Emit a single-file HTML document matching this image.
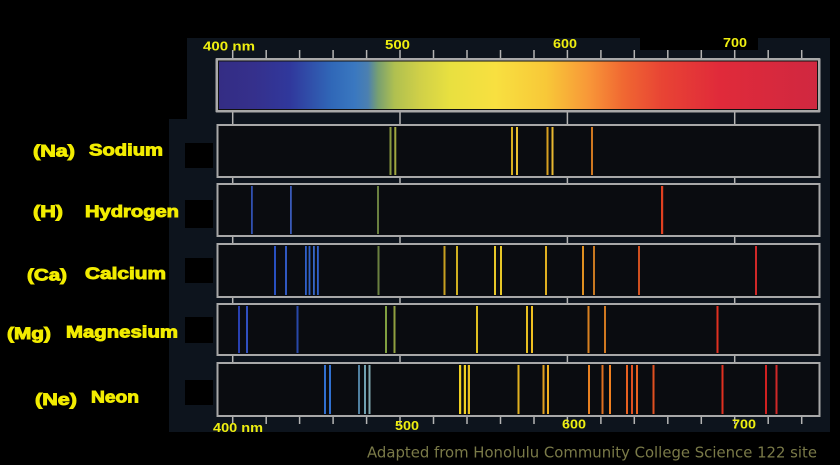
<!DOCTYPE html>
<html><head><meta charset="utf-8"><style>
html,body{margin:0;padding:0;background:#000;}
svg{display:block;}
.lab{font-family:"Liberation Sans",Arial,sans-serif;font-weight:bold;fill:#f2ec00;stroke:#f2ec00;stroke-width:0.9;font-size:16.5px;}
.ax{font-family:"Liberation Sans",Arial,sans-serif;font-weight:bold;fill:#eeee10;font-size:13px;}
.cap{font-family:"DejaVu Sans","Liberation Sans",sans-serif;fill:#7a7a48;font-size:14.8px;}
</style></head><body>
<svg width="840" height="465" viewBox="0 0 840 465" xmlns="http://www.w3.org/2000/svg">
<defs>
<linearGradient id="spec" x1="219" y1="0" x2="817" y2="0" gradientUnits="userSpaceOnUse">
<stop offset="0" stop-color="#342d84"/>
<stop offset="0.059" stop-color="#35308c"/>
<stop offset="0.119" stop-color="#30389c"/>
<stop offset="0.189" stop-color="#3068b8"/>
<stop offset="0.227" stop-color="#3a78c0"/>
<stop offset="0.249" stop-color="#4c80b0"/>
<stop offset="0.266" stop-color="#78a070"/>
<stop offset="0.294" stop-color="#b0c050"/>
<stop offset="0.336" stop-color="#d0d048"/>
<stop offset="0.386" stop-color="#e8e040"/>
<stop offset="0.462" stop-color="#f8e040"/>
<stop offset="0.547" stop-color="#f8c838"/>
<stop offset="0.617" stop-color="#f89838"/>
<stop offset="0.676" stop-color="#f06832"/>
<stop offset="0.741" stop-color="#e84434"/>
<stop offset="0.838" stop-color="#e02a3a"/>
<stop offset="1" stop-color="#d02840"/>
</linearGradient>
</defs>
<rect x="0" y="0" width="840" height="465" fill="#000"/>
<rect x="187" y="38" width="643" height="394" fill="#0d141d"/>
<rect x="169" y="119" width="18" height="313" fill="#0d141d"/>
<rect x="640" y="38" width="118" height="12" fill="#000"/>
<rect x="185" y="143" width="28" height="25" fill="#000"/>
<rect x="185" y="200" width="28" height="28" fill="#000"/>
<rect x="185" y="258" width="28" height="25" fill="#000"/>
<rect x="185" y="317" width="28" height="26" fill="#000"/>
<rect x="185" y="380" width="28" height="25" fill="#000"/>

<text class="ax" x="203" y="50.5" textLength="52" lengthAdjust="spacingAndGlyphs">400 nm</text>
<text class="ax" x="385" y="49" textLength="25" lengthAdjust="spacingAndGlyphs">500</text>
<text class="ax" x="553" y="48" textLength="24" lengthAdjust="spacingAndGlyphs">600</text>
<text class="ax" x="723" y="47" textLength="24" lengthAdjust="spacingAndGlyphs">700</text>
<rect x="640" y="0" width="200" height="38" fill="#000"/>

<g stroke="#b4b4b4" stroke-width="1.5">
<line x1="232.7" y1="50" x2="232.7" y2="58"/><line x1="266.2" y1="50" x2="266.2" y2="58"/><line x1="299.6" y1="50" x2="299.6" y2="58"/><line x1="333.1" y1="50" x2="333.1" y2="58"/><line x1="366.6" y1="50" x2="366.6" y2="58"/><line x1="400" y1="50" x2="400" y2="58"/><line x1="433.5" y1="50" x2="433.5" y2="58"/><line x1="467" y1="50" x2="467" y2="58"/><line x1="500.5" y1="50" x2="500.5" y2="58"/><line x1="534" y1="50" x2="534" y2="58"/><line x1="567.4" y1="50" x2="567.4" y2="58"/><line x1="600.9" y1="50" x2="600.9" y2="58"/><line x1="634.3" y1="50" x2="634.3" y2="58"/><line x1="667.8" y1="50" x2="667.8" y2="58"/><line x1="701.3" y1="50" x2="701.3" y2="58"/><line x1="734.7" y1="50" x2="734.7" y2="58"/><line x1="768.2" y1="50" x2="768.2" y2="58"/><line x1="801.7" y1="50" x2="801.7" y2="58"/>
</g>
<g stroke="#b4b4b4" stroke-width="1.5">
<line x1="232.7" y1="112" x2="232.7" y2="125"/><line x1="400" y1="112" x2="400" y2="125"/><line x1="567.4" y1="112" x2="567.4" y2="125"/><line x1="734.7" y1="112" x2="734.7" y2="125"/>
<line x1="232.7" y1="177" x2="232.7" y2="184"/><line x1="400" y1="177" x2="400" y2="184"/><line x1="567.4" y1="177" x2="567.4" y2="184"/><line x1="734.7" y1="177" x2="734.7" y2="184"/>
<line x1="232.7" y1="236" x2="232.7" y2="244"/><line x1="400" y1="236" x2="400" y2="244"/><line x1="567.4" y1="236" x2="567.4" y2="244"/><line x1="734.7" y1="236" x2="734.7" y2="244"/>
<line x1="232.7" y1="297" x2="232.7" y2="304"/><line x1="400" y1="297" x2="400" y2="304"/><line x1="567.4" y1="297" x2="567.4" y2="304"/><line x1="734.7" y1="297" x2="734.7" y2="304"/>
<line x1="232.7" y1="355" x2="232.7" y2="363"/><line x1="400" y1="355" x2="400" y2="363"/><line x1="567.4" y1="355" x2="567.4" y2="363"/><line x1="734.7" y1="355" x2="734.7" y2="363"/>
</g>
<g stroke="#b4b4b4" stroke-width="1.5">
<line x1="232.7" y1="416" x2="232.7" y2="424"/><line x1="266.2" y1="416" x2="266.2" y2="424"/><line x1="299.6" y1="416" x2="299.6" y2="424"/><line x1="333.1" y1="416" x2="333.1" y2="424"/><line x1="366.6" y1="416" x2="366.6" y2="424"/><line x1="400" y1="416" x2="400" y2="424"/><line x1="433.5" y1="416" x2="433.5" y2="424"/><line x1="467" y1="416" x2="467" y2="424"/><line x1="500.5" y1="416" x2="500.5" y2="424"/><line x1="534" y1="416" x2="534" y2="424"/><line x1="567.4" y1="416" x2="567.4" y2="424"/><line x1="600.9" y1="416" x2="600.9" y2="424"/><line x1="634.3" y1="416" x2="634.3" y2="424"/><line x1="667.8" y1="416" x2="667.8" y2="424"/><line x1="701.3" y1="416" x2="701.3" y2="424"/><line x1="734.7" y1="416" x2="734.7" y2="424"/><line x1="768.2" y1="416" x2="768.2" y2="424"/><line x1="801.7" y1="416" x2="801.7" y2="424"/>
</g>

<rect x="215.5" y="58" width="605" height="54.5" fill="#a9a9a9" rx="1"/>
<rect x="218" y="60.5" width="600" height="49.5" fill="#111"/>
<rect x="219" y="61.5" width="598" height="47.5" fill="url(#spec)"/>

<g fill="#0a0c10" stroke="#a8a8a8" stroke-width="2">
<rect x="217.5" y="125" width="602" height="52"/>
<rect x="217.5" y="184" width="602" height="52"/>
<rect x="217.5" y="244" width="602" height="53"/>
<rect x="217.5" y="304" width="602" height="51"/>
<rect x="217.5" y="363" width="602" height="53"/>
</g>

<g>
<rect x="389.5" y="127" width="2" height="48" fill="#8a9a40"/>
<rect x="394.3" y="127" width="2" height="48" fill="#a0a840"/>
<rect x="511" y="127" width="2" height="48" fill="#d8b020"/>
<rect x="516" y="127" width="2" height="48" fill="#e8c030"/>
<rect x="546.5" y="127" width="2" height="48" fill="#d8a020"/>
<rect x="551.5" y="127" width="2" height="48" fill="#e8b830"/>
<rect x="591" y="127" width="2" height="48" fill="#d07820"/>
</g>
<g>
<rect x="251" y="186" width="1.8" height="48" fill="#3050b0"/>
<rect x="290" y="186" width="1.8" height="48" fill="#3a5ab8"/>
<rect x="377" y="186" width="2" height="48" fill="#6a8040"/>
<rect x="661" y="186" width="2.2" height="48" fill="#e04020"/>
</g>
<g>
<rect x="274" y="246" width="2" height="49" fill="#2850c0"/>
<rect x="285" y="246" width="2" height="49" fill="#3058c0"/>
<rect x="305" y="246" width="1.8" height="49" fill="#3060c8"/>
<rect x="308.6" y="246" width="1.8" height="49" fill="#3060c8"/>
<rect x="313" y="246" width="1.8" height="49" fill="#3868c8"/>
<rect x="317" y="246" width="1.8" height="49" fill="#3060c8"/>
<rect x="377.5" y="246" width="2" height="49" fill="#6a8040"/>
<rect x="443.5" y="246" width="2" height="49" fill="#c8a020"/>
<rect x="456" y="246" width="2" height="49" fill="#d0b020"/>
<rect x="494" y="246" width="2" height="49" fill="#e8c828"/>
<rect x="500" y="246" width="2" height="49" fill="#e8c828"/>
<rect x="545" y="246" width="2" height="49" fill="#e0b020"/>
<rect x="582" y="246" width="2" height="49" fill="#e09020"/>
<rect x="593" y="246" width="2" height="49" fill="#c87820"/>
<rect x="638" y="246" width="2" height="49" fill="#d05020"/>
<rect x="755" y="246" width="2" height="49" fill="#d02828"/>
</g>
<g>
<rect x="238" y="306" width="2" height="47" fill="#2840b0"/>
<rect x="246" y="306" width="2" height="47" fill="#3050c0"/>
<rect x="296.5" y="306" width="2" height="47" fill="#2848a8"/>
<rect x="385" y="306" width="2" height="47" fill="#80a040"/>
<rect x="393.5" y="306" width="2" height="47" fill="#90a040"/>
<rect x="476" y="306" width="2" height="47" fill="#e0c020"/>
<rect x="526" y="306" width="2" height="47" fill="#e8c020"/>
<rect x="531" y="306" width="2" height="47" fill="#f0c020"/>
<rect x="587.5" y="306" width="2" height="47" fill="#d88020"/>
<rect x="604" y="306" width="2" height="47" fill="#d07820"/>
<rect x="716.5" y="306" width="2" height="47" fill="#e03020"/>
</g>
<g>
<rect x="324" y="365" width="2" height="49" fill="#3070d0"/>
<rect x="329" y="365" width="2" height="49" fill="#3070d0"/>
<rect x="358" y="365" width="2" height="49" fill="#5080a0"/>
<rect x="364" y="365" width="2" height="49" fill="#70a0b0"/>
<rect x="368.5" y="365" width="2" height="49" fill="#80a8b0"/>
<rect x="459" y="365" width="2.2" height="49" fill="#f0d020"/>
<rect x="463.8" y="365" width="2.2" height="49" fill="#f0d020"/>
<rect x="467.8" y="365" width="2.2" height="49" fill="#e8c020"/>
<rect x="517.5" y="365" width="2" height="49" fill="#e0b020"/>
<rect x="542.5" y="365" width="2" height="49" fill="#e0a020"/>
<rect x="547" y="365" width="2" height="49" fill="#f0b020"/>
<rect x="588" y="365" width="2" height="49" fill="#e88020"/>
<rect x="601.5" y="365" width="2" height="49" fill="#e07020"/>
<rect x="609" y="365" width="2" height="49" fill="#f08020"/>
<rect x="626" y="365" width="2" height="49" fill="#e86020"/>
<rect x="631" y="365" width="2" height="49" fill="#e05020"/>
<rect x="636" y="365" width="2" height="49" fill="#e86020"/>
<rect x="652.5" y="365" width="2" height="49" fill="#e05020"/>
<rect x="721.5" y="365" width="2" height="49" fill="#e03020"/>
<rect x="765" y="365" width="2" height="49" fill="#d02020"/>
<rect x="775.5" y="365" width="2" height="49" fill="#d02828"/>
</g>

<text class="ax" x="213" y="432" textLength="50" lengthAdjust="spacingAndGlyphs">400 nm</text>
<text class="ax" x="395" y="430" textLength="24" lengthAdjust="spacingAndGlyphs">500</text>
<text class="ax" x="562" y="428.5" textLength="24" lengthAdjust="spacingAndGlyphs">600</text>
<text class="ax" x="732" y="428.5" textLength="24" lengthAdjust="spacingAndGlyphs">700</text>

<text class="lab" x="33" y="156.5" textLength="42" lengthAdjust="spacingAndGlyphs">(Na)</text>
<text class="lab" x="89" y="155.5" textLength="74" lengthAdjust="spacingAndGlyphs">Sodium</text>
<text class="lab" x="33" y="217" textLength="30" lengthAdjust="spacingAndGlyphs">(H)</text>
<text class="lab" x="85" y="217" textLength="94" lengthAdjust="spacingAndGlyphs">Hydrogen</text>
<text class="lab" x="27" y="280.5" textLength="40" lengthAdjust="spacingAndGlyphs">(Ca)</text>
<text class="lab" x="85" y="279" textLength="81" lengthAdjust="spacingAndGlyphs">Calcium</text>
<text class="lab" x="7" y="339" textLength="44" lengthAdjust="spacingAndGlyphs">(Mg)</text>
<text class="lab" x="66" y="337.5" textLength="112" lengthAdjust="spacingAndGlyphs">Magnesium</text>
<text class="lab" x="35" y="405" textLength="42" lengthAdjust="spacingAndGlyphs">(Ne)</text>
<text class="lab" x="91" y="402.5" textLength="48" lengthAdjust="spacingAndGlyphs">Neon</text>

<text class="cap" x="367" y="457.3" textLength="450" lengthAdjust="spacingAndGlyphs">Adapted from Honolulu Community College Science 122 site</text>
</svg>
</body></html>
